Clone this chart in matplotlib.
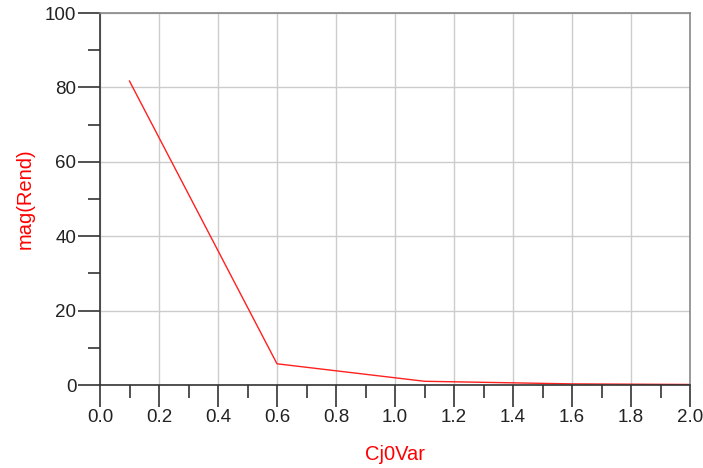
import matplotlib

matplotlib.use("Agg")
import matplotlib.pyplot as plt
from matplotlib.ticker import MultipleLocator

plt.rcParams["font.family"] = ["Liberation Sans", "DejaVu Sans"]

# swept Cj0Var values and resulting mag(Rend)
cj0var = [0.1, 0.6, 1.1, 1.6, 2.1]
mag_rend = [81.7, 5.7, 1.0, 0.3, 0.1]

fig = plt.figure(figsize=(7.03, 4.68), dpi=100)
ax = fig.add_axes([100 / 703, 83 / 468, 590 / 703, 372 / 468])

ax.plot(cj0var, mag_rend, color="#ff2020", linewidth=1.0, clip_on=True)

ax.set_xlim(0.0, 2.0)
ax.set_ylim(0, 100)
ax.xaxis.set_major_locator(MultipleLocator(0.2))
ax.xaxis.set_minor_locator(MultipleLocator(0.1))
ax.yaxis.set_major_locator(MultipleLocator(20))
ax.yaxis.set_minor_locator(MultipleLocator(10))
ax.xaxis.set_major_formatter(plt.FuncFormatter(lambda v, p: f"{v:.1f}"))

ax.grid(True, which="major", color="#cccccc", linewidth=1.0)
ax.set_axisbelow(True)

ax.tick_params(axis="both", which="major", length=16, width=1.2, color="#333333",
               labelsize=13.5, labelcolor="#222222")
ax.tick_params(axis="both", which="minor", length=9, width=1.2, color="#333333")
ax.tick_params(axis="x", which="major", pad=1)
ax.tick_params(axis="y", which="major", pad=1)

for side in ("left", "bottom"):
    ax.spines[side].set_color("#333333")
    ax.spines[side].set_linewidth(1.2)
for side in ("top", "right"):
    ax.spines[side].set_color("#888888")
    ax.spines[side].set_linewidth(1.2)

ax.set_xlabel("Cj0Var", color="red", fontsize=14.5, va="center")
ax.set_ylabel("mag(Rend)", color="red", fontsize=14.5, va="center")
ax.xaxis.set_label_coords(0.5, (13 - 83) / 372)
ax.yaxis.set_label_coords((25 - 100) / 590, 0.5)

fig.savefig("out.png", dpi=100)
